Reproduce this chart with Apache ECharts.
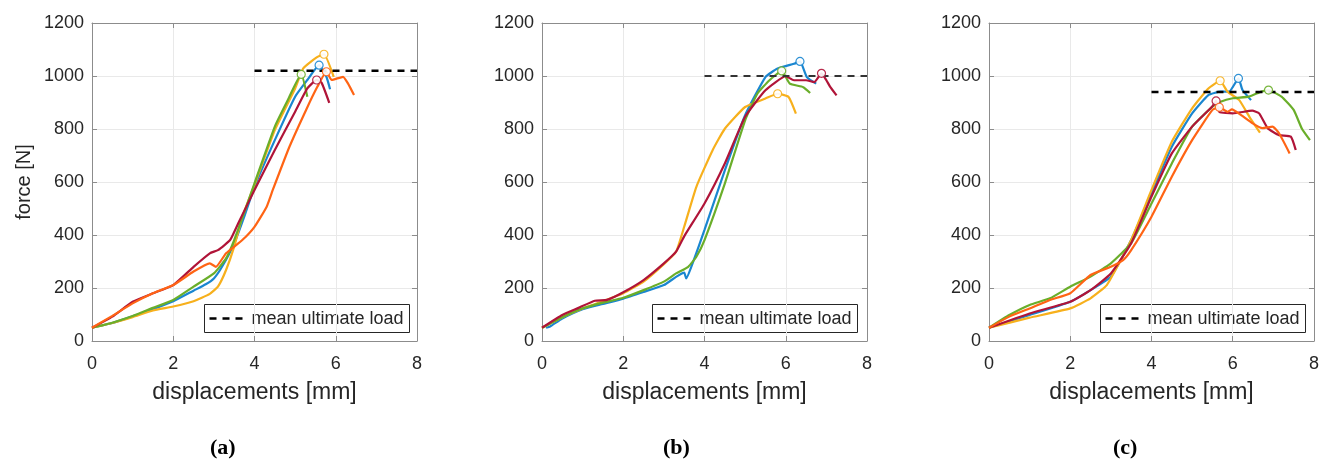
<!DOCTYPE html>
<html><head><meta charset="utf-8">
<script src="https://cdn.jsdelivr.net/npm/echarts@6/dist/echarts.min.js"></script>
<style>html,body{margin:0;padding:0;background:#fff}#c{width:1322px;height:461px}</style>
</head><body><div id="c"></div>
<script>
// ---------- data ----------
const xTicks = [0, 2, 4, 6, 8];
const yTicks = [0, 200, 400, 600, 800, 1000, 1200];
const panelLabels = ['a', 'b', 'c'];
const legendLabel = 'mean ultimate load';
const meanLoad = [1020, 1000, 940];
const meanStart = [4, 4, 4];

// panel (a)
const a_blue = [[0,50],[0.5,68],[1,93],[1.5,120],[2,150],[2.5,190],[2.8,214],[3,236],[3.2,280],[3.5,368],[3.75,470],[4,582],[4.5,758],[5,922],[5.3,985],[5.59,1041],[5.77,997],[5.86,950]];
const a_yellow = [[0,50],[0.5,68],[1,90],[1.5,115],[2,130],[2.5,150],[2.9,178],[3.1,205],[3.3,268],[3.5,356],[3.7,469],[4,589],[4.5,796],[5,953],[5.2,1029],[5.53,1070],[5.71,1082],[5.95,997]];
const a_green = [[0,50],[0.5,69],[1,94],[1.5,125],[2,155],[2.5,205],[3,255],[3.3,312],[3.5,381],[3.8,507],[4,595],[4.5,809],[4.8,903],[5.15,1006],[5.3,922]];
const a_red = [[0,50],[0.5,92],[1,148],[1.5,180],[2,211],[2.5,280],[2.9,331],[3.1,343],[3.4,381],[3.6,444],[4,570],[4.5,721],[5,865],[5.3,953],[5.53,985],[5.65,975],[5.84,899]];
const a_orange = [[0,50],[0.5,95],[1,142],[1.5,180],[2,211],[2.5,262],[2.9,293],[3.05,280],[3.3,331],[3.7,381],[4,431],[4.3,507],[4.45,570],[4.86,733],[5.27,872],[5.55,960],[5.77,1016],[5.9,985],[6.18,997],[6.3,972],[6.45,928]];
const a_peaks = [[5.59,1041],[5.71,1082],[5.15,1006],[5.53,985],[5.77,1016]];

// panel (b)
const b_blue = [[0.1,50],[0.2,55],[0.5,85],[1,120],[1.5,140],[2,160],[2.5,185],[3,211],[3.3,242],[3.5,258],[3.55,236],[3.7,290],[4,419],[4.5,644],[5,852],[5.5,996],[5.8,1028],[6.2,1046],[6.35,1055],[6.52,996],[6.75,971]];
const b_yellow = [[0,50],[0.5,90],[1,123],[1.5,150],[2,180],[2.5,224],[3,290],[3.3,337],[3.5,431],[3.8,582],[4.2,720],[4.5,801],[5,883],[5.5,915],[5.8,933],[6.07,921],[6.25,858]];
const b_green = [[0,50],[0.5,90],[1,123],[1.5,145],[2,163],[2.5,192],[3,224],[3.3,255],[3.6,280],[3.8,318],[4,381],[4.5,594],[5,833],[5.3,933],[5.6,984],[5.9,1019],[6.1,971],[6.43,958],[6.6,936]];
const b_red = [[0,50],[0.5,98],[0.9,125],[1.3,152],[1.6,155],[2,184],[2.5,230],[3,293],[3.3,337],[3.5,395],[4,519],[4.5,670],[5,846],[5.5,946],[6,999],[6.2,984],[6.5,984],[6.7,977],[6.88,1010],[7.0,984],[7.09,960],[7.25,927]];
const b_peaks = [[6.35,1055],[5.8,933],[5.9,1019],[6.88,1010]];

// panel (c)
const c_blue = [[0,50],[1,98],[2,148],[2.5,192],[3,243],[3.5,381],[4,557],[4.5,733],[5,859],[5.4,928],[5.7,941],[5.91,941],[6.14,991],[6.24,947],[6.45,909]];
const c_yellow = [[0,50],[1,88],[2,123],[2.5,161],[2.9,211],[3.2,293],[3.5,381],[4,570],[4.5,752],[5,878],[5.4,953],[5.69,982],[5.87,941],[6.16,909],[6.41,846],[6.67,786]];
const c_green = [[0,50],[0.5,98],[1,136],[1.5,161],[2,205],[2.5,243],[3,293],[3.5,369],[4,519],[4.5,670],[5,809],[5.5,884],[5.7,903],[6,916],[6.4,922],[6.7,941],[6.88,947],[7.2,922],[7.5,872],[7.7,802],[7.9,758]];
const c_red = [[0,50],[1,104],[2,148],[2.5,192],[3,255],[3.5,369],[4,545],[4.5,708],[5,809],[5.5,886],[5.59,906],[5.67,865],[6,859],[6.48,869],[6.65,859],[6.86,803],[7.14,777],[7.43,771],[7.55,721]];
const c_orange = [[0,50],[0.5,92],[1,123],[1.5,155],[2,180],[2.5,249],[3,280],[3.3,305],[3.5,343],[4,469],[4.5,620],[5,758],[5.5,872],[5.67,882],[5.87,865],[5.98,874],[6.2,853],[6.49,821],[6.73,803],[6.98,809],[7.14,784],[7.4,708]];
const c_peaks = [[6.14,991],[5.69,982],[6.88,947],[5.59,906],[5.67,882]];

// ---------- styles ----------
const COL = {blue:'#1a86d0', yellow:'#f7b01c', green:'#6aae2a', red:'#b01438', orange:'#ff6414'};
const panels = [
  {curves:[['blue',a_blue],['yellow',a_yellow],['green',a_green],['red',a_red],['orange',a_orange]], peaks:a_peaks, order:['blue','yellow','green','red','orange']},
  {curves:[['blue',b_blue],['yellow',b_yellow],['green',b_green],['red',b_red]], peaks:b_peaks, order:['blue','yellow','green','red']},
  {curves:[['blue',c_blue],['yellow',c_yellow],['green',c_green],['red',c_red],['orange',c_orange]], peaks:c_peaks, order:['blue','yellow','green','red','orange']}
];
const grids = [
  {left:92, top:23, width:325, height:318},
  {left:542, top:23, width:325, height:318},
  {left:989, top:23, width:326, height:318}
];
const legendBox = [{x:204, y:304}, {x:652, y:304}, {x:1100, y:304}];
const legendW = 205, legendH = 28;
const labelPos = [205, 658, 1108];
const meanStyle = [{color:'#000', width:2.5},{color:'#333', width:1.8},{color:'#000', width:2.5}];

const FONT = '"Liberation Sans", Arial, Helvetica, sans-serif';
const TXT = '#262626';
const AX = '#8c8c8c';

const xAxes = [], yAxes = [], series = [], graphics = [], titles = [];
grids.forEach((g, i) => {
  const base = {min:0, max:8, interval:2, type:'value', gridIndex:i};
  xAxes.push(Object.assign({}, base, {
    position:'bottom',
    axisLine:{show:true, onZero:false, lineStyle:{color:AX, width:1}},
    axisTick:{show:true, inside:true, length:5, lineStyle:{color:AX}},
    axisLabel:{color:TXT, fontSize:18, fontFamily:FONT, margin:14,
      formatter: v => xTicks.includes(v) ? String(v) : ''},
    splitLine:{show:true, lineStyle:{color:'#e9e9e9', width:1}},
    name:'displacements [mm]', nameLocation:'middle', nameGap:40,
    nameTextStyle:{color:TXT, fontSize:23, fontFamily:FONT}
  }));
  xAxes.push(Object.assign({}, base, {
    position:'top',
    axisLine:{show:true, onZero:false, lineStyle:{color:AX, width:1}},
    axisTick:{show:true, inside:true, length:5, lineStyle:{color:AX}},
    axisLabel:{show:false}, splitLine:{show:false}
  }));
  const ybase = {min:0, max:1200, interval:200, type:'value', gridIndex:i};
  yAxes.push(Object.assign({}, ybase, {
    position:'left',
    axisLine:{show:true, onZero:false, lineStyle:{color:AX, width:1}},
    axisTick:{show:true, inside:true, length:5, lineStyle:{color:AX}},
    axisLabel:{color:TXT, fontSize:18, fontFamily:FONT, margin:8,
      formatter: v => yTicks.includes(v) ? String(v) : ''},
    splitLine:{show:true, lineStyle:{color:'#e9e9e9', width:1}},
    name: i === 0 ? 'force [N]' : '', nameLocation:'middle', nameGap:58,
    nameTextStyle:{color:TXT, fontSize:20, fontFamily:FONT}
  }));
  yAxes.push(Object.assign({}, ybase, {
    position:'right',
    axisLine:{show:true, onZero:false, lineStyle:{color:AX, width:1}},
    axisTick:{show:true, inside:true, length:5, lineStyle:{color:AX}},
    axisLabel:{show:false}, splitLine:{show:false}
  }));

  const p = panels[i];
  p.curves.forEach(([c, d]) => {
    series.push({type:'line', name:'p'+i+c, xAxisIndex:2*i, yAxisIndex:2*i, data:d,
      showSymbol:false, symbol:'none', smooth:0.15, silent:true,
      lineStyle:{color:COL[c], width:2.2}, z:3});
  });
  p.peaks.forEach((pt, k) => {
    const c = p.order[k];
    series.push({type:'scatter', name:'pk'+i+c, xAxisIndex:2*i, yAxisIndex:2*i, data:[pt],
      symbol:'circle', symbolSize:8, silent:true,
      itemStyle:{color:'#ffffff', borderColor:COL[c], borderWidth:1.2, opacity:0.9}, z:5});
  });
  series.push({type:'line', name:legendLabel, xAxisIndex:2*i, yAxisIndex:2*i,
    data:[[meanStart[i], meanLoad[i]], [8, meanLoad[i]]], showSymbol:false, symbol:'none', silent:true,
    lineStyle:{color:meanStyle[i].color, width:meanStyle[i].width, type:[7,6]}, z:4});

  const lb = legendBox[i];
  graphics.push({type:'group', left:lb.x, top:lb.y, z:100, children:[
    {type:'rect', shape:{x:0, y:0, width:legendW, height:legendH},
      style:{fill:'#fff', stroke:'#262626', lineWidth:1}},
    {type:'line', shape:{x1:5, y1:legendH/2, x2:43, y2:legendH/2},
      style:{stroke:'#000', lineWidth:2.5, lineDash:[7,6]}},
    {type:'text', x:47, y:legendH/2 + 1,
      style:{text:legendLabel, fill:TXT, font:'18px ' + FONT, textVerticalAlign:'middle', verticalAlign:'middle'}}
  ]});

  titles.push({text:'{p|(}{b|' + panelLabels[i] + '}{p|)}', left:labelPos[i], top:432,
    textStyle:{rich:{
      p:{fontFamily:'"Liberation Serif", "DejaVu Serif", serif', fontSize:22, color:'#000'},
      b:{fontFamily:'"Liberation Serif", "DejaVu Serif", serif', fontSize:22, fontWeight:'bold', color:'#000'}
    }}});
});

const chart = echarts.init(document.getElementById('c'), null, {renderer:'canvas'});
chart.setOption({
  animation:false,
  backgroundColor:'#ffffff',
  title:titles,
  grid:grids.map(g => Object.assign({show:false, containLabel:false}, g)),
  xAxis:xAxes, yAxis:yAxes, series:series,
  graphic:graphics
});
</script></body></html>
